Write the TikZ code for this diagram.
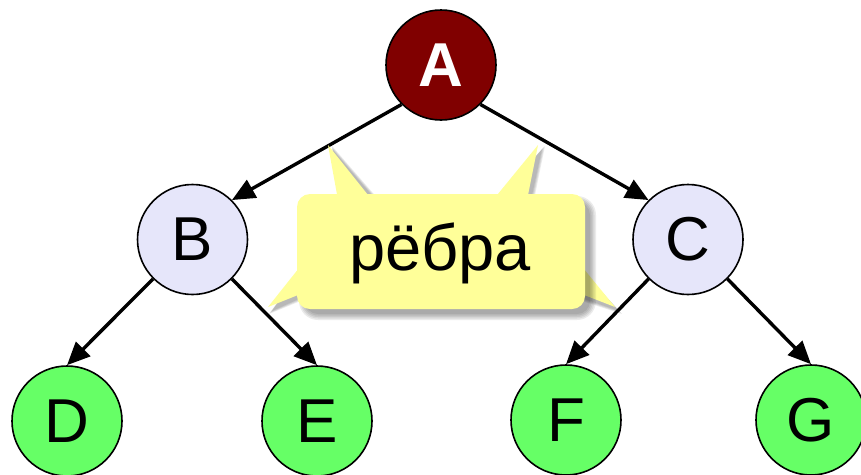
\documentclass[tikz,border=0pt]{standalone}
\usepackage{fontspec}
\setmainfont{Liberation Sans}
\usetikzlibrary{arrows.meta}
\definecolor{nodeA}{RGB}{128,0,0}
\definecolor{lav}{RGB}{230,230,250}
\definecolor{grn}{RGB}{102,255,102}
\definecolor{callout}{RGB}{255,255,153}
\begin{document}
\begin{tikzpicture}[x=1pt,y=-1pt,
  vert/.style={circle, draw=black, line width=1.6pt, minimum size=110pt, inner sep=0pt, font=\fontsize{62}{62}\selectfont},
  edge/.style={line width=3.4pt, -{Triangle[length=23pt,width=20pt]}},
  tail/.style={fill=callout},
  shade/.style={fill=black, opacity=0.08},
]
\useasboundingbox (0,0) rectangle (861,474);
% vertices
\node[vert, fill=nodeA, text=white, font=\fontsize{62}{62}\selectfont\bfseries] (A) at (441,65) {A};
\node[vert, fill=lav] (B) at (192.5,239.5) {B};
\node[vert, fill=lav] (C) at (688,239.5) {C};
\node[vert, fill=grn] (D) at (67,421) {D};
\node[vert, fill=grn] (E) at (317,421) {E};
\node[vert, fill=grn] (F) at (566,420) {F};
\node[vert, fill=grn] (G) at (811,420) {G};
% edges
\draw[edge] (A.south west) -- (B.north east);
\draw[edge] (A.south east) -- (C.north west);
\draw[edge] (B.south west) -- (D.north);
\draw[edge] (B.south east) -- (E.north);
\draw[edge] (C.south west) -- (F.north);
\draw[edge] (C.south east) -- (G.north);
% callout tails: shadows
\foreach \r in {0,1,2,3}{
  \fill[shade] (328+4,145+4-\r) -- (338+4+\r,200) -- (372+4+\r,200) -- cycle;
  \fill[shade] (538+4+\r,145+4-\r) -- (493+4,200) -- (527+4+\r,200) -- cycle;
  \fill[shade] (268+4-\r,307+4+\r) -- (303,263+4) -- (303,293+4+\r) -- cycle;
  \fill[shade] (615+4+\r,307+4+\r) -- (579,263+4) -- (579,293+4+\r) -- cycle;
}
% callout tails
\fill[tail] (328,145) -- (338,200) -- (372,200) -- cycle;
\fill[tail] (538,145) -- (493,200) -- (527,200) -- cycle;
\fill[tail] (268,307) -- (303,263) -- (303,293) -- cycle;
\fill[tail] (615,307) -- (579,263) -- (579,293) -- cycle;
% callout body shadow
\foreach \r in {0,1.5,3,4.5,6}{
  \fill[shade, rounded corners={13pt+\r pt}] (297+8-\r,194+8-\r) rectangle (585+5+\r,309+5+\r);
}
\fill[fill=callout, rounded corners=13pt] (297,194) rectangle (585,309);
\node[anchor=base, inner sep=0pt, font=\fontsize{65}{65}\selectfont] (lbl) at (440,270) {рёбра};
\end{tikzpicture}
\end{document}
